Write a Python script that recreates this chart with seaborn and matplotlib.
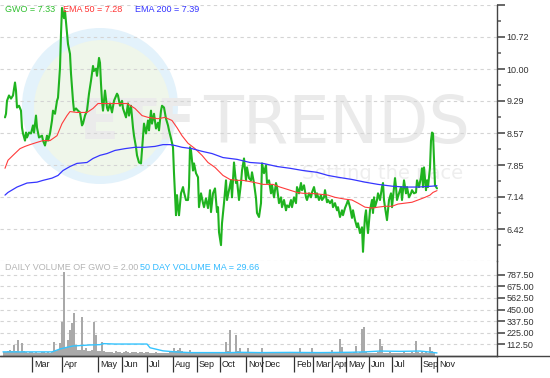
import numpy as np
import pandas as pd
import matplotlib
matplotlib.use("Agg")
import matplotlib.pyplot as plt
import seaborn as sns
from matplotlib.patches import Ellipse
from matplotlib.lines import Line2D

sns.set_theme(style="white")
plt.rcParams['font.family'] = ['Liberation Sans', 'DejaVu Sans']

# ---------------- data (x = trading-session index on the chart) ----------------
price_idx = [5, 6, 7, 9, 11, 13, 15, 16, 17, 19, 21, 22, 23, 25, 26, 27, 29, 31, 33, 34,
             36, 37, 39, 42, 43, 45, 47, 48, 50, 52, 53, 55, 57, 58, 60, 61, 62, 64, 65, 67,
             68, 70, 71, 73, 74, 76, 78, 80, 82, 83, 85, 87, 89, 91, 93, 94, 96, 97, 99, 100,
             101, 102, 103, 104, 105, 107, 108, 110, 112, 114, 117, 118, 120, 122, 123, 126, 128, 129, 131, 133,
             134, 136, 137, 139, 141, 142, 144, 146, 148, 149, 151, 152, 154, 156, 158, 159, 161, 162, 164, 166,
             168, 169, 171, 173, 174, 175, 176, 177, 178, 179, 181, 183, 184, 186, 188, 189, 190, 191, 193, 194,
             196, 198, 199, 201, 203, 204, 206, 208, 209, 210, 211, 212, 213, 215, 217, 218, 219, 221, 222, 224,
             226, 227, 229, 231, 232, 234, 236, 237, 239, 241, 242, 244, 246, 247, 249, 251, 252, 254, 256, 257,
             259, 261, 262, 264, 266, 267, 269, 271, 272, 274, 276, 277, 279, 281, 282, 284, 286, 287, 289, 291,
             292, 294, 296, 297, 299, 301, 302, 304, 306, 307, 309, 311, 312, 314, 316, 317, 319, 321, 322, 324,
             325, 327, 328, 330, 332, 333, 335, 337, 338, 340, 342, 343, 345, 347, 348, 350, 352, 353, 355, 357,
             358, 360, 362, 363, 364, 365, 366, 367, 368, 370, 372, 373, 374, 375, 377, 378, 380, 382, 383, 384,
             385, 387, 388, 389, 391, 392, 393, 395, 396, 397, 399, 401, 402, 404, 406, 407, 409, 411, 412, 414,
             416, 417, 419, 421, 422, 423, 424, 426, 427, 428, 430, 431, 432, 433, 434, 435, 437]
price = [8.92, 9.00, 9.29, 9.41, 9.34, 9.41, 9.70, 9.52, 9.14, 9.18, 9.07, 8.69, 8.56, 8.40, 8.58, 8.47, 8.58, 8.56, 8.74, 8.58,
         8.96, 8.69, 8.47, 8.51, 8.40, 8.29, 8.51, 8.40, 8.56, 8.85, 9.07, 9.00, 9.29, 9.36, 10.03, 10.79, 11.37, 11.14, 11.30, 10.79,
         10.56, 10.34, 9.90, 9.29, 9.07, 9.12, 9.07, 9.03, 8.74, 8.78, 8.96, 9.07, 9.45, 9.74, 10.07, 9.96, 10.01, 9.85, 10.25, 10.14,
         9.67, 9.29, 9.07, 9.29, 9.52, 9.14, 9.07, 9.23, 9.03, 9.29, 9.45, 9.41, 9.18, 9.29, 9.12, 8.92, 9.23, 8.96, 9.18, 8.69,
         8.51, 8.25, 8.07, 7.91, 7.89, 8.18, 8.78, 8.56, 8.85, 8.63, 9.07, 8.78, 9.00, 8.67, 8.80, 8.63, 9.07, 9.18, 9.14, 8.89,
         8.74, 8.63, 8.45, 8.25, 7.67, 7.22, 6.73, 7.18, 6.91, 6.73, 7.22, 7.36, 7.24, 7.07, 7.07, 7.36, 8.25, 8.18, 7.73, 7.89,
         7.67, 7.58, 6.91, 7.22, 7.00, 6.91, 7.11, 6.89, 7.07, 7.29, 6.80, 7.02, 7.22, 7.33, 6.80, 6.91, 6.35, 6.06, 6.55, 7.00,
         7.51, 7.07, 7.29, 7.51, 7.13, 7.91, 7.45, 7.51, 7.07, 7.45, 7.73, 8.00, 7.51, 7.80, 7.56, 7.51, 7.69, 7.45, 7.11, 6.78,
         6.69, 7.00, 7.89, 7.67, 7.85, 7.45, 7.51, 7.22, 7.40, 7.13, 7.45, 7.36, 7.00, 7.13, 6.91, 7.07, 6.84, 6.95, 6.91, 7.07,
         6.91, 7.13, 7.00, 7.36, 7.22, 7.45, 7.29, 7.40, 7.13, 7.07, 7.22, 7.13, 7.24, 7.36, 7.13, 7.22, 7.07, 7.18, 7.07, 7.13,
         7.29, 7.02, 7.07, 7.00, 7.07, 6.91, 7.00, 6.84, 6.91, 6.69, 6.84, 6.73, 6.89, 7.00, 7.07, 6.91, 6.67, 6.84, 6.62, 6.46,
         6.55, 6.33, 6.46, 5.91, 6.35, 6.69, 6.84, 6.55, 6.33, 6.84, 7.07, 6.78, 7.13, 6.91, 7.07, 7.22, 7.07, 7.36, 7.45, 7.07,
         6.91, 6.62, 6.84, 7.07, 7.22, 6.91, 7.13, 7.56, 7.36, 7.07, 7.22, 7.36, 7.07, 7.51, 7.22, 7.36, 7.13, 7.22, 7.29, 7.22,
         7.24, 7.51, 7.36, 7.58, 7.78, 7.36, 7.80, 7.29, 7.51, 7.36, 7.80, 8.40, 8.58, 8.56, 7.96, 7.40, 7.33]

ema50_idx = [5, 8, 13, 20, 25, 30, 37, 43, 50, 57, 62, 67, 70, 77, 87, 93, 98, 107, 118, 127,
             135, 142, 148, 158, 165, 172, 177, 182, 188, 195, 202, 208, 215, 223, 230, 237, 243, 253, 263, 273,
             280, 290, 297, 303, 310, 320, 328, 335, 345, 352, 358, 365, 372, 378, 385, 392, 398, 405, 412, 418,
             425, 430, 433, 437]
ema50 = [7.78, 7.96, 8.07, 8.22, 8.27, 8.31, 8.36, 8.40, 8.40, 8.51, 8.78, 8.96, 9.05, 9.03, 9.03, 9.12, 9.23, 9.23, 9.23, 9.23,
         9.12, 8.96, 8.92, 8.89, 8.92, 8.85, 8.69, 8.51, 8.34, 8.22, 8.07, 7.91, 7.80, 7.62, 7.53, 7.51, 7.51, 7.47, 7.42, 7.42,
         7.36, 7.29, 7.24, 7.22, 7.22, 7.20, 7.18, 7.13, 7.09, 7.07, 7.00, 6.91, 6.89, 6.91, 6.93, 6.93, 6.98, 7.00, 7.02, 7.07,
         7.13, 7.18, 7.24, 7.28]

ema200_idx = [5, 8, 17, 27, 37, 43, 52, 58, 63, 70, 77, 87, 93, 100, 107, 115, 125, 135, 145, 155,
              163, 170, 175, 182, 192, 202, 212, 223, 237, 250, 263, 277, 290, 303, 317, 328, 338, 352, 365, 378,
              392, 405, 418, 432, 437]
ema200 = [7.18, 7.24, 7.36, 7.45, 7.47, 7.51, 7.56, 7.62, 7.73, 7.82, 7.89, 7.91, 8.00, 8.07, 8.11, 8.18, 8.22, 8.25, 8.25, 8.27,
          8.31, 8.31, 8.29, 8.25, 8.22, 8.16, 8.11, 8.02, 7.98, 7.91, 7.89, 7.82, 7.78, 7.73, 7.69, 7.62, 7.58, 7.53, 7.47, 7.42,
          7.38, 7.36, 7.36, 7.38, 7.39]

# daily volume, one bar every 2 sessions-units starting at 4
volume = [40, 35, 45, 58, 50, 107, 45, 155, 40,
          126, 45, 38, 30, 42, 35, 28, 40, 33, 30, 38, 35, 30, 38, 32,
          40, 136, 45, 55, 126, 330, 815, 90, 155, 252, 320, 417, 107, 60, 55,
          378, 60, 78, 50, 45, 60, 330, 204, 50, 45, 136, 50, 40, 35, 42,
          38, 30, 45, 35, 40, 30, 38, 45, 35, 30, 42, 38, 35, 28, 40, 35, 30, 38, 40, 32,
          30, 28, 35, 30, 25, 32, 28, 30, 25, 35, 40, 78, 45, 60, 78, 50, 30, 28, 35, 55, 30, 28, 25, 30, 28,
          32, 25, 30, 28, 35, 30, 25, 28, 30, 35, 40, 30, 136, 50, 252, 40, 35, 204, 45, 78, 30, 28, 35, 78, 30,
          28, 32, 25, 30, 28, 78, 35, 30, 28, 25, 30, 28, 32, 25, 30, 28, 35, 30, 25, 28, 30, 35, 28, 30, 78,
          40, 30, 28, 32, 25, 78, 35, 30, 28, 25, 30, 28, 25, 30, 35, 58, 28, 30, 40, 165, 87, 30, 28, 32, 30,
          28, 35, 97, 30, 40, 262, 281, 35, 30, 28, 25, 30, 28, 35, 165, 97, 30, 28, 32, 40, 30, 28, 25, 30, 28,
          30, 35, 28, 25, 30, 35, 28, 146, 40, 30, 35, 28, 40, 30, 87, 45, 30, 2]
vol_idx = list(range(4, 4 + 2 * len(volume), 2))

vol_ma_idx = [3, 52, 60, 65, 73, 90, 100, 103, 115, 147, 150, 163, 175, 190, 230, 240, 260, 290, 320, 350,
              365, 380, 400, 420, 430, 437]
vol_ma = [40, 40, 68, 80, 97, 107, 110, 120, 116, 116, 80, 50, 40, 33, 33, 36, 33, 35, 33, 36,
          40, 48, 45, 48, 38, 29.66]

month_pos = [32, 62, 98, 122, 147, 173, 197, 220, 246, 262, 294, 313, 332, 346, 369, 392, 421, 437]
month_lbl = ['Mar', 'Apr', 'May', 'Jun', 'Jul', 'Aug', 'Sep', 'Oct', 'Nov', 'Dec',
             'Feb', 'Mar', 'Apr', 'May', 'Jun', 'Jul', 'Sep', 'Nov']

price_ticks = [6.42, 7.14, 7.85, 8.57, 9.29, 10.00, 10.72]
vol_ticks = [112.5, 225.0, 337.5, 450.0, 562.5, 675.0, 787.5]

# ---------------- figure ----------------
W, H = 550, 378
fig = plt.figure(figsize=(W / 100, H / 100), dpi=100)
fig.patch.set_facecolor('white')

def rect(x0, y0, x1, y1):
    return [x0 / W, 1 - y1 / H, (x1 - x0) / W, (y1 - y0) / H]

axp = fig.add_axes(rect(0, 5, 497, 261))
axv = fig.add_axes(rect(0, 261, 497, 356))

P_LO, P_HI = 5.705, 11.435
V_HI = 921
XMAX = 497
grid_kw = dict(color='#d4d4d4', lw=0.8, ls=(0, (3, 3)), zorder=0.5)
tick_col = '#666666'
lab_col = '#333333'

# ---- price panel ----
ppx = (P_HI - P_LO) / 256.0  # price per pixel
def py(pix):
    return P_HI - (pix - 5) * ppx

axp.add_patch(Ellipse((100, py(106)), 156, 156 * ppx, facecolor='#e3f2fb', edgecolor='none', zorder=0.1))
axp.add_patch(Ellipse((102, py(108)), 136, 136 * ppx, facecolor='#eff6ea', edgecolor='none', zorder=0.15))
axp.text(80, py(124), 'ETF', fontsize=41, fontweight='bold', color='#ebebeb', ha='left', va='center',
         family=['DejaVu Sans'], zorder=0.2)
axp.text(203, py(125), 'TRENDS', fontsize=47, color='#eaeaea', ha='left', va='center',
         family=['DejaVu Sans'], zorder=0.2)
axp.text(302, py(173), 'Setting the pace', fontsize=14, color='#eeeeee', ha='left', va='center',
         family=['DejaVu Sans'], zorder=0.2)

for v in price_ticks + [P_HI - 0.002, P_LO + 0.002]:
    axp.axhline(v, **grid_kw)

dfp = pd.DataFrame({'session': price_idx, 'price': price})
df50 = pd.DataFrame({'session': ema50_idx, 'ema': ema50})
df200 = pd.DataFrame({'session': ema200_idx, 'ema': ema200})
sns.lineplot(data=dfp, x='session', y='price', ax=axp, color='#1fb31f', lw=1.5, estimator=None, zorder=3)
sns.lineplot(data=df50, x='session', y='ema', ax=axp, color='#ff3b3b', lw=0.8, estimator=None, zorder=4)
sns.lineplot(data=df200, x='session', y='ema', ax=axp, color='#3535ff', lw=0.9, estimator=None, zorder=4)

axp.set_xlim(0, XMAX)
axp.set_ylim(P_LO, P_HI)
axp.set_xlabel('')
axp.set_ylabel('')
axp.set_xticks([])
for s in ['top', 'left', 'bottom']:
    axp.spines[s].set_visible(False)
axp.spines['right'].set_color('#444444')
axp.spines['right'].set_linewidth(1)
axp.yaxis.tick_right()
axp.set_yticks(price_ticks + [P_HI])
axp.set_yticklabels([f'{t:.2f}' for t in price_ticks] + [''])
minors = [(a + b) / 2 for a, b in zip([P_LO] + price_ticks, price_ticks + [P_HI])]
axp.set_yticks(minors, minor=True)
axp.tick_params(axis='y', which='major', right=True, left=False, length=6, width=1.4, color=tick_col,
                labelsize=6.5, labelcolor=lab_col, pad=1)
axp.tick_params(axis='y', which='minor', right=True, left=False, length=3, width=1.2, color=tick_col)
axp.patch.set_alpha(0)

# ---- volume panel ----
for v in vol_ticks:
    axv.axhline(v, **grid_kw)
dfv = pd.DataFrame({'session': vol_idx, 'volume': volume})
dfm = pd.DataFrame({'session': vol_ma_idx, 'ma': vol_ma})
sns.barplot(data=dfv, x='session', y='volume', ax=axv, native_scale=True, color='#a9a9a9',
            saturation=1, errorbar=None, width=0.75, linewidth=0, zorder=2)
sns.lineplot(data=dfm, x='session', y='ma', ax=axv, color='#33c4ff', lw=1.0, estimator=None, zorder=3)
axv.set_xlim(0, XMAX)
axv.set_ylim(0, V_HI)
axv.set_xlabel('')
axv.set_ylabel('')
for s in ['top', 'left']:
    axv.spines[s].set_visible(False)
axv.spines['right'].set_color('#444444')
axv.spines['bottom'].set_color('#444444')
axv.spines['right'].set_linewidth(1)
axv.spines['bottom'].set_linewidth(1)
axv.yaxis.tick_right()
axv.set_yticks(vol_ticks)
axv.set_yticklabels([f'{t:.2f}' for t in vol_ticks])
axv.tick_params(axis='y', right=True, left=False, length=6, width=1.4, color=tick_col,
                labelsize=6.5, labelcolor=lab_col, pad=1)
axv.set_xticks(month_pos)
axv.set_xticklabels([''] * len(month_pos))
axv.tick_params(axis='x', bottom=True, direction='out', length=11.5, width=0.9, color='#333333')
for pos, lbl in zip(month_pos, month_lbl):
    axv.text(pos + 2, -0.085, lbl, transform=axv.get_xaxis_transform(), ha='left', va='center',
             fontsize=6.5, color='#222222')
axv.patch.set_alpha(0)

fig.add_artist(Line2D([0, 1], [22 / H, 22 / H], color='#444444', lw=1, transform=fig.transFigure))

# ---- legend texts ----
def ftxt(x, y, s, c):
    fig.text(x / W, 1 - y / H, s, color=c, fontsize=6.5, ha='left', va='center')

ftxt(5, 10, 'GWO = 7.33', '#2fbf2f')
ftxt(63, 10, 'EMA 50 = 7.28', '#ff3333')
ftxt(135, 10, 'EMA 200 = 7.39', '#3333ff')
ftxt(5, 267, 'DAILY VOLUME OF GWO = 2.00', '#b4b4b4')
ftxt(140, 267, '50 DAY VOLUME MA = 29.66', '#33bbff')

fig.savefig('out.png', dpi=100, facecolor='white')
